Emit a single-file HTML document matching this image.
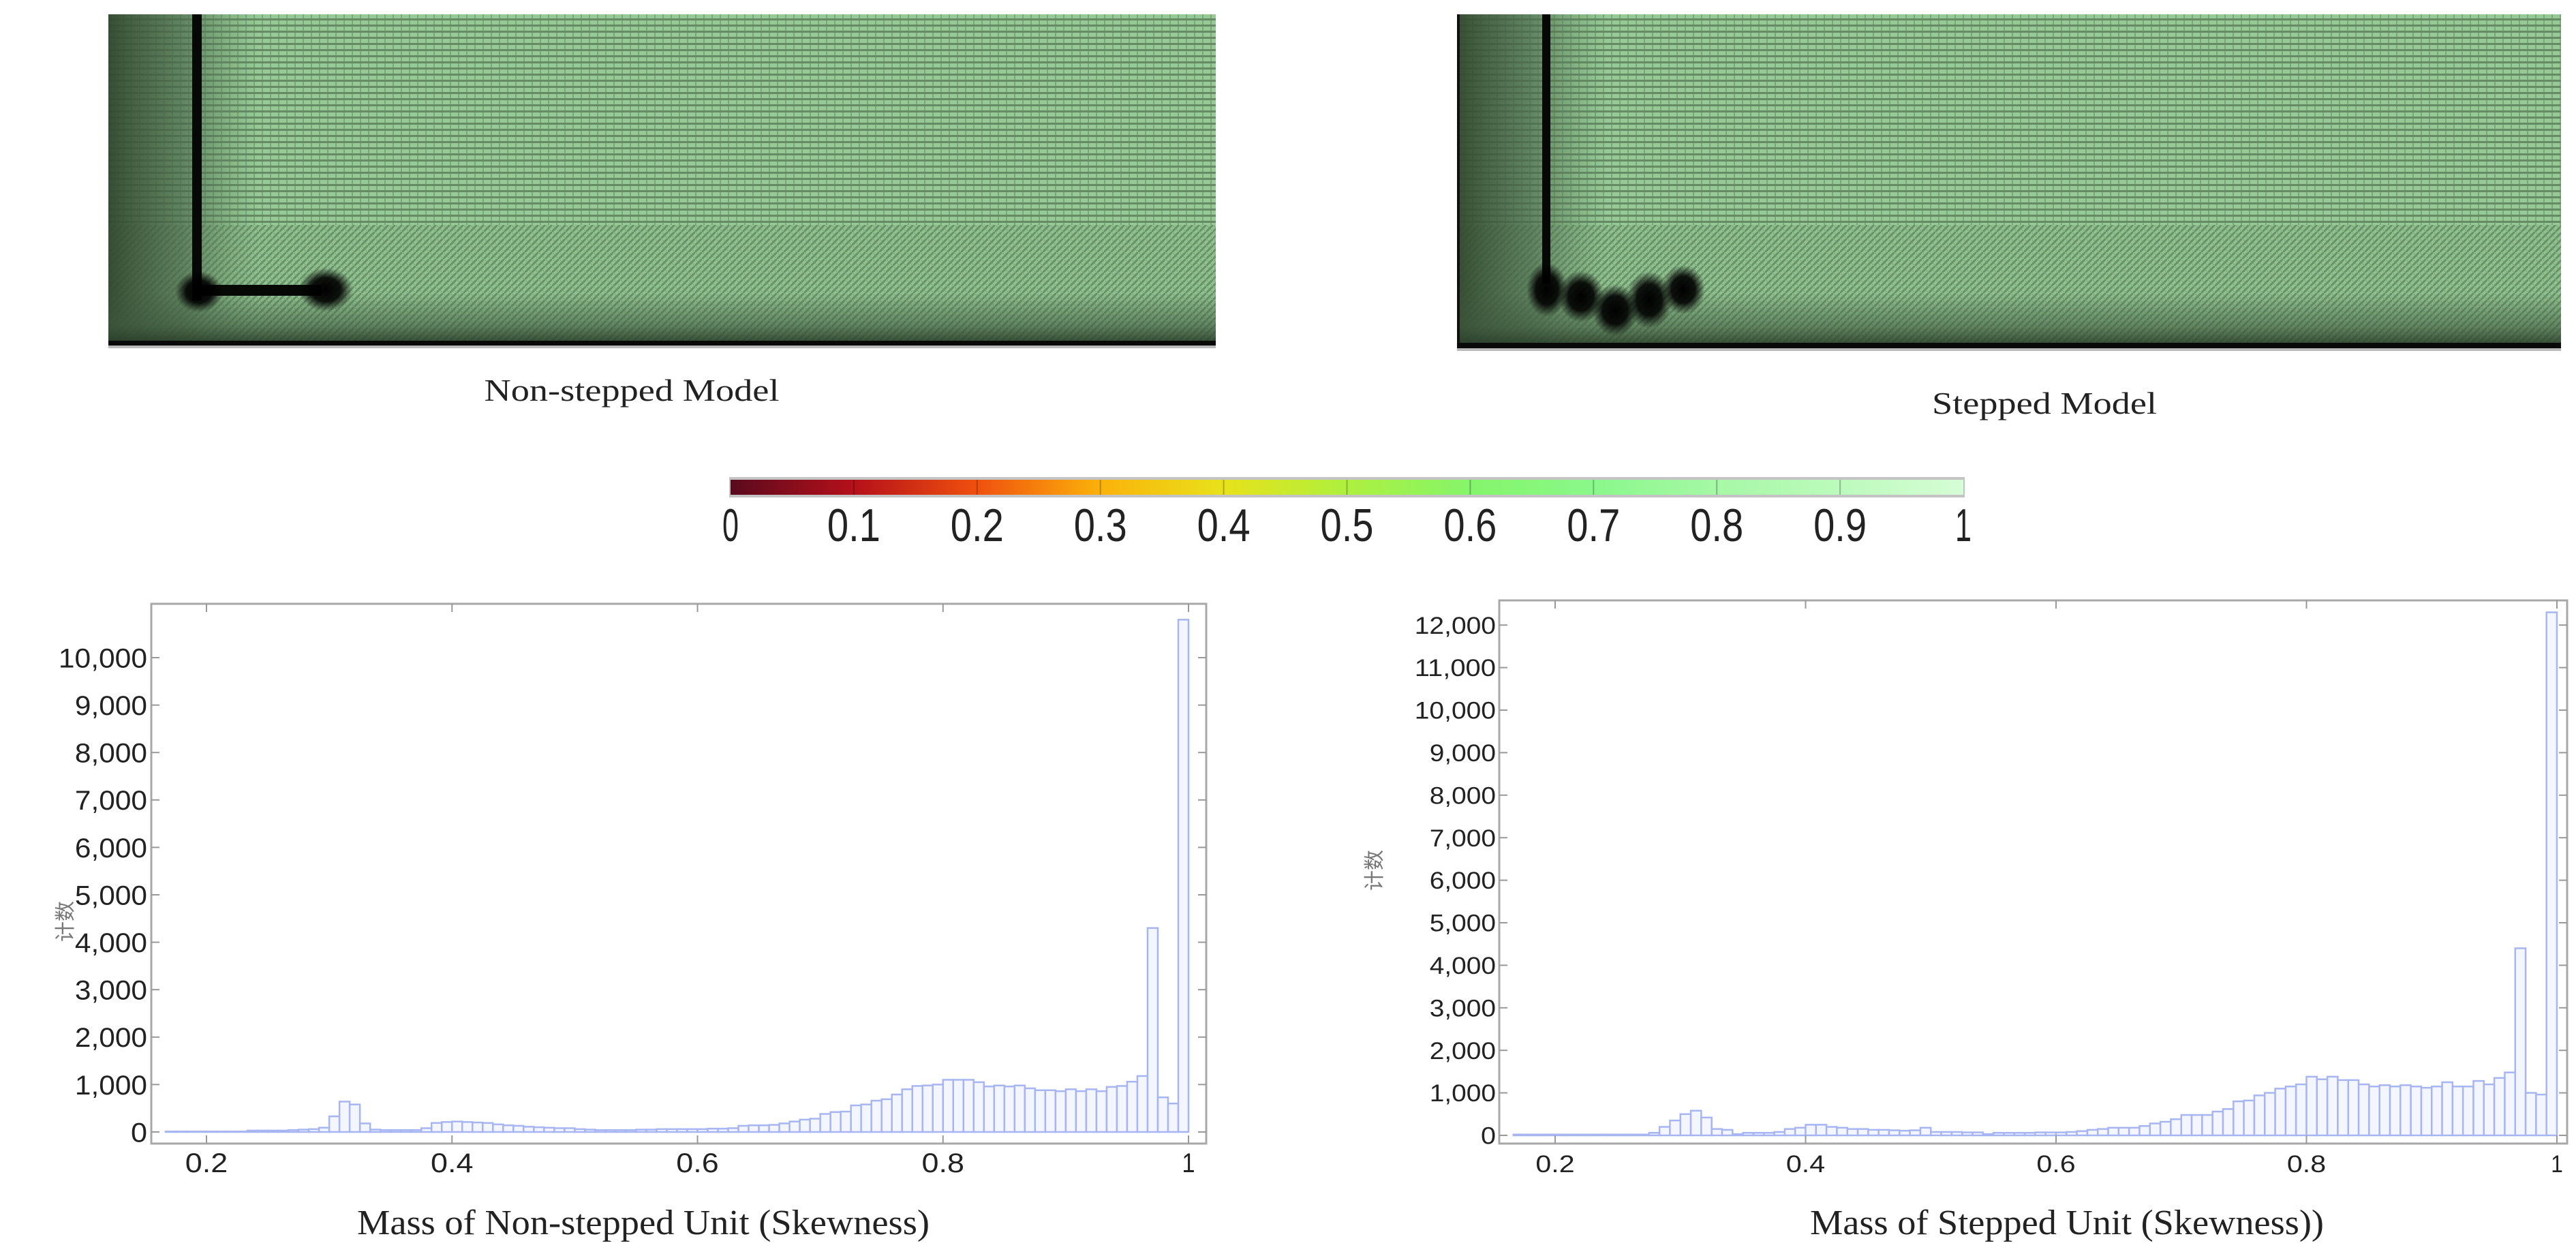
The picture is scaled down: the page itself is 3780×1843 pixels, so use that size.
<!DOCTYPE html>
<html><head><meta charset="utf-8">
<style>
html,body{margin:0;padding:0;background:#fff;}
body{width:3780px;height:1843px;overflow:hidden;position:relative;}
svg{position:absolute;left:0;top:0;}
</style></head>
<body>
<svg id="fig" width="3780" height="1843" viewBox="0 0 3780 1843" xmlns="http://www.w3.org/2000/svg">
<defs>
  <pattern id="stripes" width="12" height="9" patternUnits="userSpaceOnUse">
    <rect width="12" height="9" fill="#96c996"/>
    <rect y="0" width="12" height="3" fill="#4f714f" opacity="0.7"/>
    <rect x="0" y="3" width="2" height="6" fill="#5f855f" opacity="0.5"/>
  </pattern>
  <pattern id="diag" width="10" height="10" patternUnits="userSpaceOnUse">
    <rect width="10" height="10" fill="#90c290"/>
    <path d="M0 10 L10 0" stroke="#4f714f" stroke-width="3" opacity="0.6"/>
    <path d="M0 0 L10 10" stroke="#6f986f" stroke-width="1.5" opacity="0.5"/>
  </pattern>
  <linearGradient id="leftDark" x1="0" x2="1" y1="0" y2="0">
    <stop offset="0" stop-color="#32482f" stop-opacity="0.95"/>
    <stop offset="0.5" stop-color="#4a684a" stop-opacity="0.7"/>
    <stop offset="1" stop-color="#5f855f" stop-opacity="0"/>
  </linearGradient>
  <linearGradient id="botDark" x1="0" x2="0" y1="0" y2="1">
    <stop offset="0" stop-color="#3d573d" stop-opacity="0"/>
    <stop offset="0.6" stop-color="#3d573d" stop-opacity="0.55"/>
    <stop offset="1" stop-color="#243624" stop-opacity="0.95"/>
  </linearGradient>
  <linearGradient id="cbar" x1="0" x2="1" y1="0" y2="0">
    <stop offset="0" stop-color="#5a0a1e"/>
    <stop offset="0.1" stop-color="#b5101a"/>
    <stop offset="0.2" stop-color="#f0500e"/>
    <stop offset="0.3" stop-color="#fbb20a"/>
    <stop offset="0.4" stop-color="#e8e21a"/>
    <stop offset="0.5" stop-color="#aef03e"/>
    <stop offset="0.6" stop-color="#84f56a"/>
    <stop offset="0.7" stop-color="#8af88a"/>
    <stop offset="0.8" stop-color="#a6f8a6"/>
    <stop offset="0.9" stop-color="#bcfabc"/>
    <stop offset="1" stop-color="#d6fdd6"/>
  </linearGradient>
  <radialGradient id="blob">
    <stop offset="0" stop-color="#000"/>
    <stop offset="0.55" stop-color="#000" stop-opacity="0.9"/>
    <stop offset="1" stop-color="#000" stop-opacity="0"/>
  </radialGradient>
</defs>

<!-- Left mesh -->
<g>
  <rect x="159" y="21" width="1625" height="486" fill="url(#stripes)"/>
  <rect x="159" y="330" width="1625" height="177" fill="url(#diag)"/>
  <rect x="159" y="21" width="220" height="486" fill="url(#leftDark)"/>
  <rect x="159" y="430" width="1625" height="77" fill="url(#botDark)"/>
  <rect x="282" y="21" width="14" height="420" fill="#050805"/>
  <rect x="282" y="418" width="190" height="16" fill="#050805"/>
  <ellipse cx="292" cy="428" rx="35" ry="30" fill="url(#blob)"/>
  <ellipse cx="478" cy="425" rx="40" ry="32" fill="url(#blob)"/>
  <rect x="159" y="500" width="1625" height="7" fill="#0a0a0a"/>
  <rect x="159" y="507" width="1625" height="4" fill="#bbbbbb"/>
</g>

<!-- Right mesh -->
<g>
  <rect x="2138" y="21" width="1620" height="490" fill="url(#stripes)"/>
  <rect x="2138" y="330" width="1620" height="181" fill="url(#diag)"/>
  <rect x="2138" y="21" width="220" height="490" fill="url(#leftDark)"/>
  <rect x="2138" y="430" width="1620" height="81" fill="url(#botDark)"/>
  <rect x="2138" y="21" width="4" height="490" fill="#111"/>
  <rect x="2263" y="21" width="12" height="395" fill="#050805"/>
  <ellipse cx="2270" cy="425" rx="30" ry="40" fill="url(#blob)"/>
  <ellipse cx="2320" cy="435" rx="34" ry="38" fill="url(#blob)"/>
  <ellipse cx="2370" cy="455" rx="34" ry="38" fill="url(#blob)"/>
  <ellipse cx="2420" cy="440" rx="34" ry="42" fill="url(#blob)"/>
  <ellipse cx="2470" cy="425" rx="32" ry="36" fill="url(#blob)"/>
  <rect x="2138" y="503" width="1620" height="8" fill="#0a0a0a"/>
  <rect x="2138" y="511" width="1620" height="4" fill="#bbbbbb"/>
</g>

<text x="927" y="588" font-family="Liberation Serif, serif" font-size="46" fill="#222" text-anchor="middle" textLength="433" lengthAdjust="spacingAndGlyphs">Non-stepped Model</text>
<text x="3000" y="607" font-family="Liberation Serif, serif" font-size="46" fill="#222" text-anchor="middle" textLength="330" lengthAdjust="spacingAndGlyphs">Stepped Model</text>

<!-- Colorbar -->
<g>
  <rect x="1070" y="700" width="1813" height="30" fill="#c4c4c4"/>
  <rect x="1072" y="704" width="1809" height="22" fill="url(#cbar)"/>
  <g id="cbTicks"></g>
</g>

<g id="chartL"></g>
<g id="chartR"></g>

<text x="944" y="1811" font-family="Liberation Serif, serif" font-size="52" fill="#222" text-anchor="middle" textLength="840" lengthAdjust="spacingAndGlyphs">Mass of Non-stepped Unit (Skewness)</text>
<text x="3033" y="1811" font-family="Liberation Serif, serif" font-size="52" fill="#222" text-anchor="middle" textLength="754" lengthAdjust="spacingAndGlyphs">Mass of Stepped Unit (Skewness))</text>
<text transform="translate(106,1352) rotate(-90)" font-family="Liberation Sans, 'Noto Sans CJK SC', sans-serif" font-size="30" fill="#777" text-anchor="middle">计数</text>
<text transform="translate(2027,1277) rotate(-90)" font-family="Liberation Sans, 'Noto Sans CJK SC', sans-serif" font-size="30" fill="#777" text-anchor="middle">计数</text>
</svg>

<script>
const NS = "http://www.w3.org/2000/svg";
const binStart = 1/6;
const binWidth = 1/120;
const xTickValues = [0.2, 0.4, 0.6, 0.8, 1];
const xTickLabels = ["0.2", "0.4", "0.6", "0.8", "1"];
const leftYTicks = [0,1000,2000,3000,4000,5000,6000,7000,8000,9000,10000];
const rightYTicks = [0,1000,2000,3000,4000,5000,6000,7000,8000,9000,10000,11000,12000];
const colorbarTicks = [0,0.1,0.2,0.3,0.4,0.5,0.6,0.7,0.8,0.9,1];
const colorbarLabels = ["0","0.1","0.2","0.3","0.4","0.5","0.6","0.7","0.8","0.9","1"];
const leftCounts = [
 10,10,10,10,10,10,10,10,30,30,
 30,30,40,50,60,90,330,640,580,180,
 50,40,40,40,40,80,190,210,220,210,
 200,190,160,140,130,110,100,90,80,80,
 60,50,40,40,40,40,50,50,60,60,
 60,60,60,70,70,80,130,140,140,150,
 180,220,260,280,380,420,430,560,580,660,
 690,790,900,970,980,1000,1100,1100,1100,1050,
 960,980,960,980,920,880,880,860,900,860,
 900,860,950,970,1060,1180,4300,730,600,10800];
const rightCounts = [
 20,20,20,20,20,20,20,20,20,20,
 20,20,20,60,200,350,500,580,420,150,
 130,30,60,60,60,80,150,180,250,250,
 200,180,150,150,130,130,120,110,120,180,
 80,80,80,70,70,30,60,60,60,60,
 70,70,70,80,100,130,150,180,180,180,
 220,280,320,380,480,480,480,560,620,800,
 820,940,1000,1100,1150,1200,1380,1320,1380,1300,
 1300,1200,1150,1180,1150,1180,1150,1120,1150,1250,
 1150,1150,1280,1200,1350,1480,4400,1000,960,12300];

function fmt(n){ return n.toLocaleString("en-US"); }

function drawChart(g, counts, yTicks, cfg){
  const xs = v => cfg.x02 + (v - 0.2) * (cfg.x1 - cfg.x02) / 0.8;
  const ys = v => cfg.y0 - v * cfg.perUnit;
  const frame = document.createElementNS(NS, "rect");
  frame.setAttribute("x", cfg.left); frame.setAttribute("y", cfg.top);
  frame.setAttribute("width", cfg.right - cfg.left); frame.setAttribute("height", cfg.bottom - cfg.top);
  frame.setAttribute("fill", "none"); frame.setAttribute("stroke", "#a8a8a8"); frame.setAttribute("stroke-width", "3");
  
  
  g.appendChild(frame);
  counts.forEach((c, i) => {
    const a = binStart + i * binWidth, b = a + binWidth;
    const r = document.createElementNS(NS, "rect");
    const x0 = xs(a), x1 = xs(b), y = ys(c);
    r.setAttribute("x", x0); r.setAttribute("y", y);
    r.setAttribute("width", x1 - x0); r.setAttribute("height", Math.max(0, cfg.y0 - y));
    r.setAttribute("fill", "#f4f6ff"); r.setAttribute("stroke", "#a7b6f2"); r.setAttribute("stroke-width", "2.5");
    
    
    g.appendChild(r);
  });
  yTicks.forEach(v => {
    const y = ys(v);
    [[cfg.left, cfg.left + 12], [cfg.right - 12, cfg.right]].forEach(p => {
      const l = document.createElementNS(NS, "line");
      l.setAttribute("x1", p[0]); l.setAttribute("x2", p[1]); l.setAttribute("y1", y); l.setAttribute("y2", y);
      l.setAttribute("stroke", "#999"); l.setAttribute("stroke-width", "2");
      
      
      g.appendChild(l);
    });
    const t = document.createElementNS(NS, "text");
    const s = fmt(v);
    t.textContent = s;
    t.setAttribute("x", cfg.labelRight); t.setAttribute("y", y + cfg.yfs * 0.36);
    t.setAttribute("text-anchor", "end");
    t.setAttribute("font-family", "Liberation Sans, sans-serif");
    t.setAttribute("font-size", cfg.yfs); t.setAttribute("fill", "#222");
    const digits = s.replace(/,/g, "").length, commas = s.length - digits;
    t.setAttribute("textLength", digits * cfg.digitW + commas * cfg.digitW * 0.42);
    t.setAttribute("lengthAdjust", "spacingAndGlyphs");
    
    
    g.appendChild(t);
  });
  xTickValues.forEach((v, i) => {
    const x = xs(v);
    [[cfg.bottom - 12, cfg.bottom], [cfg.top, cfg.top + 12]].forEach(p => {
      const l = document.createElementNS(NS, "line");
      l.setAttribute("x1", x); l.setAttribute("x2", x); l.setAttribute("y1", p[0]); l.setAttribute("y2", p[1]);
      l.setAttribute("stroke", "#999"); l.setAttribute("stroke-width", "2");
      
      
      g.appendChild(l);
    });
    const t = document.createElementNS(NS, "text");
    const s = xTickLabels[i];
    t.textContent = s;
    t.setAttribute("x", x); t.setAttribute("y", cfg.xLabelY);
    t.setAttribute("text-anchor", "middle");
    t.setAttribute("font-family", "Liberation Sans, sans-serif");
    t.setAttribute("font-size", cfg.yfs); t.setAttribute("fill", "#222");
    t.setAttribute("textLength", s.length === 1 ? cfg.digitW * 0.8 : cfg.digitW * 2.6);
    t.setAttribute("lengthAdjust", "spacingAndGlyphs");
    
    
    g.appendChild(t);
  });
}

drawChart(document.getElementById("chartL"), leftCounts, leftYTicks,
  {left:222, right:1770, top:886, bottom:1678, x02:303, x1:1744, y0:1661, perUnit:0.0696,
   labelRight:216, yfs:40, digitW:24, xLabelY:1720});
drawChart(document.getElementById("chartR"), rightCounts, rightYTicks,
  {left:2200, right:3767, top:881, bottom:1678, x02:2282, x1:3752, y0:1666, perUnit:0.0624,
   labelRight:2195, yfs:35, digitW:22, xLabelY:1720});

(function(){
  const g = document.getElementById("cbTicks");
  const x0 = 1072, x1 = 2881;
  colorbarTicks.forEach((v, i) => {
    const x = x0 + v * (x1 - x0);
    if (i > 0 && i < colorbarTicks.length - 1) {
      const l = document.createElementNS(NS, "line");
      l.setAttribute("x1", x); l.setAttribute("x2", x); l.setAttribute("y1", 704); l.setAttribute("y2", 726);
      l.setAttribute("stroke", "#000"); l.setAttribute("stroke-opacity", "0.25"); l.setAttribute("stroke-width", "2");
      
      
      g.appendChild(l);
    }
    const t = document.createElementNS(NS, "text");
    const s = colorbarLabels[i];
    t.textContent = s;
    t.setAttribute("x", x); t.setAttribute("y", 794);
    t.setAttribute("text-anchor", "middle");
    t.setAttribute("font-family", "Liberation Sans, sans-serif");
    t.setAttribute("font-size", "68"); t.setAttribute("fill", "#222");
    t.setAttribute("textLength", s.length === 1 ? 24 : 78);
    t.setAttribute("lengthAdjust", "spacingAndGlyphs");
    
    
    g.appendChild(t);
  });
})();
</script>
</body></html>
